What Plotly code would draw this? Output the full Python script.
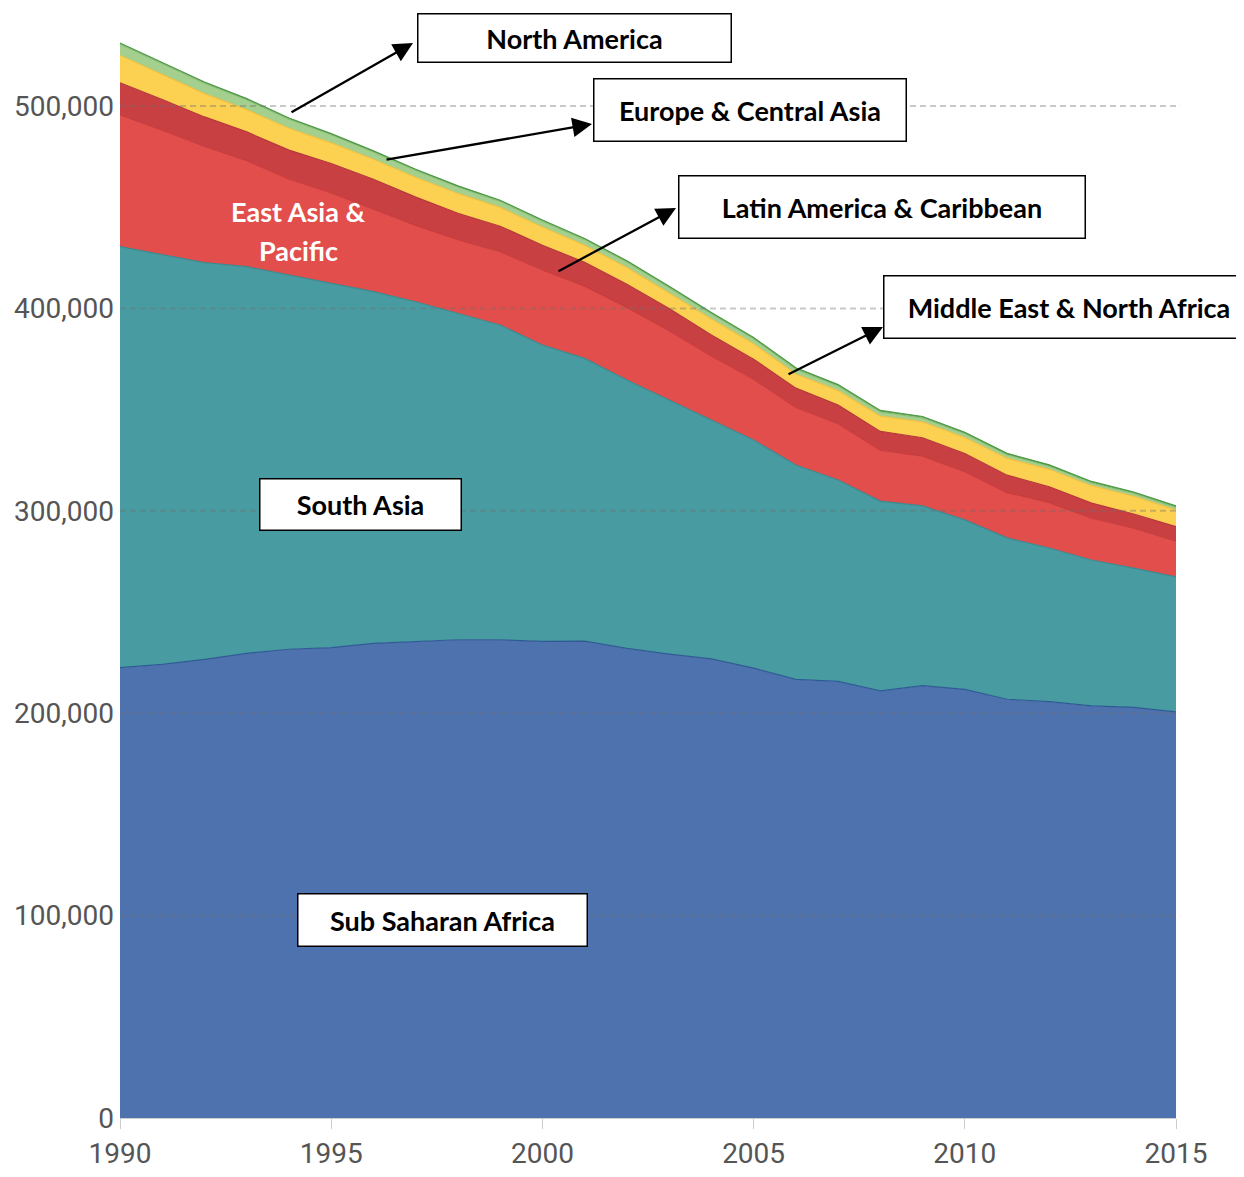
import plotly.graph_objects as go

years = list(range(1990, 2016))

sub_saharan_africa = [222500, 224100, 226600, 229600, 231600, 232400, 234500, 235400, 236300, 236300,
                      235500, 235600, 232000, 229200, 226800, 222300, 216700, 215700, 211000, 213600,
                      211800, 206900, 205700, 203600, 202900, 200700]
south_asia = [208000, 202400, 196000, 191000, 184900, 180300, 173800, 167900, 161400, 155500,
              146400, 139700, 132600, 125500, 118100, 112700, 105900, 99500, 93800, 88800,
              83700, 79700, 75900, 72100, 68800, 66600]
east_asia_pacific = [65100, 61500, 57400, 52400, 47500, 44300, 40700, 37700, 36300, 36200,
                     37100, 35700, 35900, 34300, 31600, 30000, 28400, 27800, 25200, 24600,
                     23800, 22400, 22400, 20600, 19700, 17700]
latin_america_caribbean = [15800, 15200, 14600, 14200, 14200, 14600, 14800, 14000, 13000, 12600,
                           12200, 11800, 11400, 11000, 10400, 9900, 9600, 9200, 9200, 9100,
                           9000, 8600, 7900, 7500, 7000, 7200]
middle_east_north_africa = [13700, 12500, 11500, 11000, 10800, 10200, 9900, 9800, 9800, 9300,
                            9000, 8400, 8300, 7600, 7900, 7600, 7000, 7200, 7600, 7800,
                            7900, 8400, 8600, 8600, 8800, 8200]
europe_central_asia = [5500, 5400, 5200, 4900, 4500, 4000, 3600, 3400, 3200, 3000,
                       2900, 2800, 2700, 2700, 2600, 2500, 2400, 2300, 2100, 2000,
                       1900, 1700, 1500, 1400, 1400, 1300]
north_america = [550, 550, 550, 550, 550, 550, 550, 550, 550, 550,
                 550, 550, 600, 600, 600, 600, 650, 650, 700, 700,
                 700, 700, 700, 700, 700, 700]

y_ticks = [0, 100000, 200000, 300000, 400000, 500000]
x_ticks = [1990, 1995, 2000, 2005, 2010, 2015]

series = [
    ("Sub Saharan Africa", sub_saharan_africa, "#4e72ae", "#2f5b95"),
    ("South Asia", south_asia, "#489ba0", "#3a8a90"),
    ("East Asia & Pacific", east_asia_pacific, "#e24e4b", "#c93c3c"),
    ("Latin America & Caribbean", latin_america_caribbean, "#c94043", "#b83639"),
    ("Middle East & North Africa", middle_east_north_africa, "#fcd152", "#f0c040"),
    ("Europe & Central Asia", europe_central_asia, "#a3cf8f", "#8cbf78"),
    ("North America", north_america, "#4f9a48", "#4f9a48"),
]

fig = go.Figure()
for name, vals, fill, line in series:
    fig.add_trace(go.Scatter(
        x=years, y=vals, name=name, mode="lines", stackgroup="one",
        fillcolor=fill, line=dict(color=line, width=1.2), showlegend=False,
    ))

# page is rendered with an 8px body margin; size the figure to fit the window
OFF = 8
W, H = 1244 - OFF, 1177 - OFF
L, T = 120 - OFF, 0
PLOT_W = 1056
PLOT_BOTTOM = 1118 - OFF
R = W - L - PLOT_W
B = H - PLOT_BOTTOM
pw, ph = PLOT_W, PLOT_BOTTOM - T
y_top = PLOT_BOTTOM / 2.024 * 1000  # 2.024 px per 1,000


def px(x):
    return (x - OFF - L) / pw


def py(y):
    return (PLOT_BOTTOM - (y - OFF)) / ph


tick_font = dict(family="Liberation Sans Narrow, Roboto, sans-serif", size=28, color="#555555")
label_font = dict(family="Lato, Open Sans, sans-serif", size=27, color="black", weight="bold")

annotations = []
boxes = [
    ("North America", 417, 732, 13, 63),
    ("Europe & Central Asia", 593, 907, 78, 142),
    ("Latin America & Caribbean", 678, 1086, 175, 239),
    ("Middle East & North Africa", 883, 1255, 275, 339),
    ("South Asia", 259, 462, 478, 531),
    ("Sub Saharan Africa", 297, 588, 893, 947),
]
for text, x0, x1, y0, y1 in boxes:
    annotations.append(dict(
        text=text, xref="paper", yref="paper",
        x=px((x0 + x1) / 2), y=py((y0 + y1) / 2), xanchor="center", yanchor="middle",
        showarrow=False, font=label_font, bgcolor="white", bordercolor="black",
        borderwidth=1.5, borderpad=0, width=x1 - x0 - 3, height=y1 - y0 - 3, align="center",
    ))

for line_text, ly in [("East Asia &", 211), ("Pacific", 251)]:
    annotations.append(dict(
        text=line_text, xref="paper", yref="paper",
        x=px(298), y=py(ly), xanchor="center", yanchor="middle", showarrow=False,
        font=dict(family="Lato, Open Sans, sans-serif", size=27, color="white", weight="bold"),
    ))

arrows = [
    ((290, 113), (413, 43)),
    ((385, 160), (592, 124)),
    ((557, 272), (676, 208)),
    ((787, 375), (883, 327)),
]
for (tx, ty), (hx, hy) in arrows:
    annotations.append(dict(
        text="", xref="paper", yref="paper", x=px(hx), y=py(hy),
        ax=tx - hx, ay=ty - hy, showarrow=True, arrowhead=2, arrowsize=1.7,
        arrowwidth=2.3, arrowcolor="black",
    ))

shapes = []
for v in y_ticks[1:]:
    shapes.append(dict(
        type="line", xref="paper", yref="y", x0=0, x1=1.004, y0=v, y1=v,
        line=dict(color="rgba(110,110,110,0.38)", width=2, dash="6px,4px"), layer="above",
    ))

fig.update_layout(
    width=W, height=H,
    margin=dict(l=L, r=R, t=T, b=B, autoexpand=False),
    plot_bgcolor="white", paper_bgcolor="white",
    annotations=annotations, shapes=shapes,
    xaxis=dict(
        range=[1990, 2015], tickvals=x_ticks, ticks="outside", ticklen=10,
        tickcolor="#cccccc", showgrid=False, zeroline=False, showline=True,
        linecolor="#cccccc", tickfont=tick_font, automargin=False,
    ),
    yaxis=dict(
        range=[0, y_top], tickvals=y_ticks, tickformat=",", showgrid=False,
        zeroline=False, showline=False, tickfont=tick_font, ticklabelstandoff=5,
        automargin=False,
    ),
)

fig.write_html("out.html")
